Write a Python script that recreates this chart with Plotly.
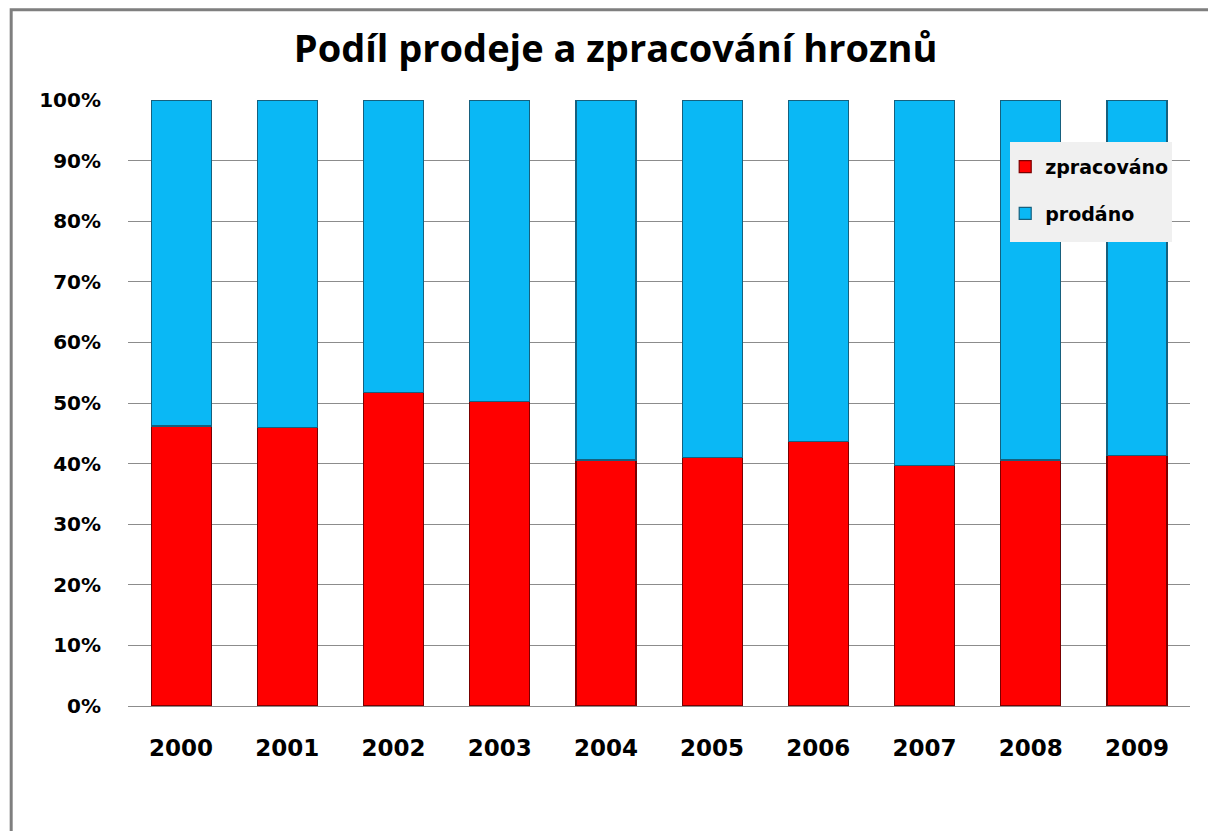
import plotly.graph_objects as go

# Data (share in %)
years = ["2000", "2001", "2002", "2003", "2004", "2005", "2006", "2007", "2008", "2009"]
zpracovano = [46.2, 46.0, 51.7, 50.3, 40.6, 41.0, 43.7, 39.7, 40.6, 41.3]
prodano = [53.8, 54.0, 48.3, 49.7, 59.4, 59.0, 56.3, 60.3, 59.4, 58.7]
y_ticks = [0, 10, 20, 30, 40, 50, 60, 70, 80, 90, 100]
y_labels = [f"{v}%" for v in y_ticks]

fig = go.Figure()

fig.add_trace(
    go.Bar(
        x=years,
        y=zpracovano,
        name="<b>zpracováno</b>",
        legendgroup="a",
        marker=dict(color="#ff0000", line=dict(color="#7a0000", width=1.2)),
        width=0.565,
    )
)
fig.add_trace(
    go.Bar(
        x=years,
        y=prodano,
        name="<b>prodáno</b>",
        legendgroup="b",
        marker=dict(color="#0ab8f5", line=dict(color="#16607e", width=1.2)),
        width=0.565,
    )
)

# the page body adds an 8px margin, so the figure is 8px smaller than the window
fig.update_layout(
    barmode="stack",
    width=1208,
    height=823,
    title=dict(
        text="<b>Podíl prodeje a zpracování hroznů</b>",
        x=0.503,
        xanchor="center",
        y=0.95,
        yanchor="middle",
        font=dict(family="Open Sans", size=38, color="black"),
    ),
    plot_bgcolor="white",
    paper_bgcolor="white",
    margin=dict(t=92, l=120, r=26, b=125),
    showlegend=True,
    legend=dict(
        x=0.826,
        y=0.921,
        xanchor="left",
        yanchor="top",
        bgcolor="rgba(0,0,0,0)",
        traceorder="grouped",
        tracegroupgap=19,
        font=dict(family="DejaVu Sans", size=19, color="black"),
        itemwidth=30,
    ),
    font=dict(family="DejaVu Sans", color="black"),
)

fig.update_yaxes(
    range=[0, 100],
    tickvals=y_ticks,
    ticktext=[f"<b>{t}</b>" for t in y_labels],
    tickfont=dict(size=20),
    showgrid=True,
    gridcolor="#8c8c8c",
    gridwidth=1,
    zeroline=False,
    ticks="",
    ticklabelstandoff=26,
)
fig.update_xaxes(
    tickvals=years,
    ticktext=[f"<b>{y}</b>" for y in years],
    tickfont=dict(size=23),
    showline=True,
    linecolor="#8c8c8c",
    linewidth=1,
    ticks="",
    ticklabelstandoff=21,
)

# Legend box
fig.add_shape(
    type="rect",
    xref="paper",
    yref="paper",
    x0=0.8305,
    x1=0.983,
    y0=0.7657,
    y1=0.9307,
    fillcolor="#f0f0f0",
    line=dict(width=0),
    layer="above",
)

# Chart frame (only left and top edges visible)
fig.add_shape(
    type="rect",
    xref="paper",
    yref="paper",
    x0=-0.110,
    x1=1.2,
    y0=-0.5,
    y1=1.149,
    line=dict(color="#7f7f7f", width=3),
    layer="below",
)

fig.write_html("out.html")
